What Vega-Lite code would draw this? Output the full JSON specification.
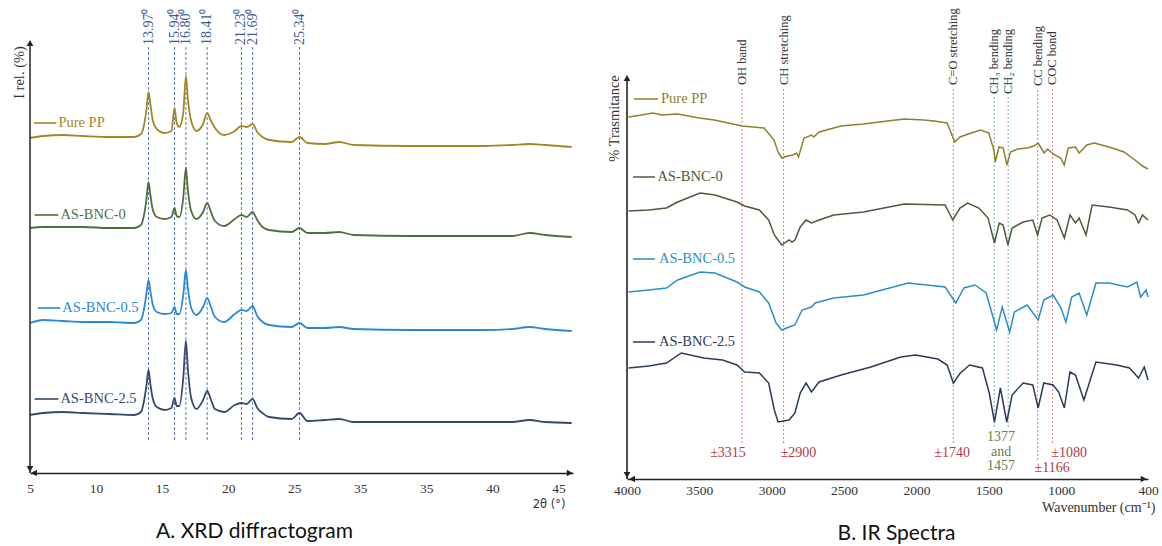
{
  "$schema": "https://vega.github.io/schema/vega-lite/v6.json",
  "background": "white",
  "padding": {"left": 11, "top": 0, "right": 0, "bottom": 0},
  "spacing": 30,
  "config": {"view": {"stroke": null}, "axis": {"grid": false}},
  "resolve": {"scale": {"color": "independent"}},
  "datasets": {
    "xrd": [
      {"sample":"Pure PP","two_theta":5,"intensity":335},{"sample":"Pure PP","two_theta":6,"intensity":337},{"sample":"Pure PP","two_theta":7.5,"intensity":338},{"sample":"Pure PP","two_theta":9,"intensity":337},{"sample":"Pure PP","two_theta":11,"intensity":336},{"sample":"Pure PP","two_theta":12.9,"intensity":336},{"sample":"Pure PP","two_theta":13.4,"intensity":339},{"sample":"Pure PP","two_theta":13.6,"intensity":346},{"sample":"Pure PP","two_theta":13.8,"intensity":362},{"sample":"Pure PP","two_theta":13.97,"intensity":381},{"sample":"Pure PP","two_theta":14.12,"intensity":368},{"sample":"Pure PP","two_theta":14.3,"intensity":352},{"sample":"Pure PP","two_theta":14.6,"intensity":344},{"sample":"Pure PP","two_theta":15.2,"intensity":340},{"sample":"Pure PP","two_theta":15.7,"intensity":342},{"sample":"Pure PP","two_theta":15.94,"intensity":365},{"sample":"Pure PP","two_theta":16.1,"intensity":350},{"sample":"Pure PP","two_theta":16.3,"intensity":346},{"sample":"Pure PP","two_theta":16.6,"intensity":360},{"sample":"Pure PP","two_theta":16.8,"intensity":397},{"sample":"Pure PP","two_theta":16.95,"intensity":374},{"sample":"Pure PP","two_theta":17.2,"intensity":352},{"sample":"Pure PP","two_theta":17.6,"intensity":342},{"sample":"Pure PP","two_theta":18.1,"intensity":349},{"sample":"Pure PP","two_theta":18.41,"intensity":360},{"sample":"Pure PP","two_theta":18.7,"intensity":352},{"sample":"Pure PP","two_theta":19.0,"intensity":345},{"sample":"Pure PP","two_theta":19.7,"intensity":338},{"sample":"Pure PP","two_theta":20.5,"intensity":342},{"sample":"Pure PP","two_theta":21.0,"intensity":347},{"sample":"Pure PP","two_theta":21.4,"intensity":346},{"sample":"Pure PP","two_theta":21.85,"intensity":349},{"sample":"Pure PP","two_theta":22.2,"intensity":341},{"sample":"Pure PP","two_theta":22.6,"intensity":336},{"sample":"Pure PP","two_theta":23.1,"intensity":333},{"sample":"Pure PP","two_theta":24.8,"intensity":331},{"sample":"Pure PP","two_theta":25.4,"intensity":336},{"sample":"Pure PP","two_theta":26.0,"intensity":330},{"sample":"Pure PP","two_theta":27.3,"intensity":329},{"sample":"Pure PP","two_theta":28.4,"intensity":331},{"sample":"Pure PP","two_theta":29.5,"intensity":328},{"sample":"Pure PP","two_theta":33.8,"intensity":327},{"sample":"Pure PP","two_theta":39.4,"intensity":327},{"sample":"Pure PP","two_theta":41.5,"intensity":328},{"sample":"Pure PP","two_theta":42.8,"intensity":329},{"sample":"Pure PP","two_theta":44,"intensity":328},{"sample":"Pure PP","two_theta":46,"intensity":326},
      {"sample":"AS-BNC-0","two_theta":5,"intensity":245},{"sample":"AS-BNC-0","two_theta":6,"intensity":246},{"sample":"AS-BNC-0","two_theta":7.5,"intensity":246},{"sample":"AS-BNC-0","two_theta":9,"intensity":246},{"sample":"AS-BNC-0","two_theta":11,"intensity":245},{"sample":"AS-BNC-0","two_theta":12.9,"intensity":245},{"sample":"AS-BNC-0","two_theta":13.4,"intensity":248},{"sample":"AS-BNC-0","two_theta":13.6,"intensity":256},{"sample":"AS-BNC-0","two_theta":13.8,"intensity":272},{"sample":"AS-BNC-0","two_theta":13.97,"intensity":291},{"sample":"AS-BNC-0","two_theta":14.12,"intensity":277},{"sample":"AS-BNC-0","two_theta":14.3,"intensity":263},{"sample":"AS-BNC-0","two_theta":14.6,"intensity":256},{"sample":"AS-BNC-0","two_theta":15.2,"intensity":254},{"sample":"AS-BNC-0","two_theta":15.7,"intensity":256},{"sample":"AS-BNC-0","two_theta":15.94,"intensity":265},{"sample":"AS-BNC-0","two_theta":16.1,"intensity":257},{"sample":"AS-BNC-0","two_theta":16.3,"intensity":256},{"sample":"AS-BNC-0","two_theta":16.6,"intensity":275},{"sample":"AS-BNC-0","two_theta":16.8,"intensity":305},{"sample":"AS-BNC-0","two_theta":16.95,"intensity":283},{"sample":"AS-BNC-0","two_theta":17.2,"intensity":262},{"sample":"AS-BNC-0","two_theta":17.6,"intensity":254},{"sample":"AS-BNC-0","two_theta":18.1,"intensity":261},{"sample":"AS-BNC-0","two_theta":18.41,"intensity":270},{"sample":"AS-BNC-0","two_theta":18.7,"intensity":261},{"sample":"AS-BNC-0","two_theta":19.0,"intensity":252},{"sample":"AS-BNC-0","two_theta":19.7,"intensity":247},{"sample":"AS-BNC-0","two_theta":20.5,"intensity":254},{"sample":"AS-BNC-0","two_theta":21.0,"intensity":258},{"sample":"AS-BNC-0","two_theta":21.4,"intensity":256},{"sample":"AS-BNC-0","two_theta":21.85,"intensity":261},{"sample":"AS-BNC-0","two_theta":22.2,"intensity":253},{"sample":"AS-BNC-0","two_theta":22.6,"intensity":246},{"sample":"AS-BNC-0","two_theta":23.1,"intensity":243},{"sample":"AS-BNC-0","two_theta":24.8,"intensity":241},{"sample":"AS-BNC-0","two_theta":25.4,"intensity":245},{"sample":"AS-BNC-0","two_theta":26.0,"intensity":240},{"sample":"AS-BNC-0","two_theta":27.3,"intensity":240},{"sample":"AS-BNC-0","two_theta":28.4,"intensity":241},{"sample":"AS-BNC-0","two_theta":29.5,"intensity":238},{"sample":"AS-BNC-0","two_theta":33.8,"intensity":237},{"sample":"AS-BNC-0","two_theta":39.4,"intensity":237},{"sample":"AS-BNC-0","two_theta":41.5,"intensity":237},{"sample":"AS-BNC-0","two_theta":42.8,"intensity":240},{"sample":"AS-BNC-0","two_theta":44,"intensity":238},{"sample":"AS-BNC-0","two_theta":46,"intensity":236},
      {"sample":"AS-BNC-0.5","two_theta":5,"intensity":150},{"sample":"AS-BNC-0.5","two_theta":6,"intensity":153},{"sample":"AS-BNC-0.5","two_theta":7.5,"intensity":152},{"sample":"AS-BNC-0.5","two_theta":9,"intensity":151},{"sample":"AS-BNC-0.5","two_theta":11,"intensity":151},{"sample":"AS-BNC-0.5","two_theta":12.9,"intensity":150},{"sample":"AS-BNC-0.5","two_theta":13.4,"intensity":153},{"sample":"AS-BNC-0.5","two_theta":13.6,"intensity":162},{"sample":"AS-BNC-0.5","two_theta":13.8,"intensity":178},{"sample":"AS-BNC-0.5","two_theta":13.97,"intensity":193},{"sample":"AS-BNC-0.5","two_theta":14.12,"intensity":181},{"sample":"AS-BNC-0.5","two_theta":14.3,"intensity":168},{"sample":"AS-BNC-0.5","two_theta":14.6,"intensity":161},{"sample":"AS-BNC-0.5","two_theta":15.2,"intensity":159},{"sample":"AS-BNC-0.5","two_theta":15.7,"intensity":160},{"sample":"AS-BNC-0.5","two_theta":15.94,"intensity":166},{"sample":"AS-BNC-0.5","two_theta":16.1,"intensity":159},{"sample":"AS-BNC-0.5","two_theta":16.3,"intensity":159},{"sample":"AS-BNC-0.5","two_theta":16.6,"intensity":178},{"sample":"AS-BNC-0.5","two_theta":16.8,"intensity":203},{"sample":"AS-BNC-0.5","two_theta":16.95,"intensity":185},{"sample":"AS-BNC-0.5","two_theta":17.2,"intensity":165},{"sample":"AS-BNC-0.5","two_theta":17.6,"intensity":158},{"sample":"AS-BNC-0.5","two_theta":18.1,"intensity":166},{"sample":"AS-BNC-0.5","two_theta":18.41,"intensity":175},{"sample":"AS-BNC-0.5","two_theta":18.7,"intensity":166},{"sample":"AS-BNC-0.5","two_theta":19.0,"intensity":156},{"sample":"AS-BNC-0.5","two_theta":19.7,"intensity":151},{"sample":"AS-BNC-0.5","two_theta":20.5,"intensity":159},{"sample":"AS-BNC-0.5","two_theta":21.0,"intensity":163},{"sample":"AS-BNC-0.5","two_theta":21.4,"intensity":162},{"sample":"AS-BNC-0.5","two_theta":21.85,"intensity":167},{"sample":"AS-BNC-0.5","two_theta":22.2,"intensity":157},{"sample":"AS-BNC-0.5","two_theta":22.6,"intensity":151},{"sample":"AS-BNC-0.5","two_theta":23.1,"intensity":148},{"sample":"AS-BNC-0.5","two_theta":24.8,"intensity":146},{"sample":"AS-BNC-0.5","two_theta":25.4,"intensity":150},{"sample":"AS-BNC-0.5","two_theta":26.0,"intensity":145},{"sample":"AS-BNC-0.5","two_theta":27.3,"intensity":145},{"sample":"AS-BNC-0.5","two_theta":28.4,"intensity":146},{"sample":"AS-BNC-0.5","two_theta":29.5,"intensity":144},{"sample":"AS-BNC-0.5","two_theta":33.8,"intensity":143},{"sample":"AS-BNC-0.5","two_theta":39.4,"intensity":143},{"sample":"AS-BNC-0.5","two_theta":41.5,"intensity":144},{"sample":"AS-BNC-0.5","two_theta":42.8,"intensity":146},{"sample":"AS-BNC-0.5","two_theta":44,"intensity":144},{"sample":"AS-BNC-0.5","two_theta":46,"intensity":142},
      {"sample":"AS-BNC-2.5","two_theta":5,"intensity":58},{"sample":"AS-BNC-2.5","two_theta":6,"intensity":60},{"sample":"AS-BNC-2.5","two_theta":7.5,"intensity":61},{"sample":"AS-BNC-2.5","two_theta":9,"intensity":60},{"sample":"AS-BNC-2.5","two_theta":11,"intensity":59},{"sample":"AS-BNC-2.5","two_theta":12.9,"intensity":58},{"sample":"AS-BNC-2.5","two_theta":13.4,"intensity":61},{"sample":"AS-BNC-2.5","two_theta":13.6,"intensity":70},{"sample":"AS-BNC-2.5","two_theta":13.8,"intensity":86},{"sample":"AS-BNC-2.5","two_theta":13.97,"intensity":103},{"sample":"AS-BNC-2.5","two_theta":14.12,"intensity":88},{"sample":"AS-BNC-2.5","two_theta":14.3,"intensity":74},{"sample":"AS-BNC-2.5","two_theta":14.6,"intensity":66},{"sample":"AS-BNC-2.5","two_theta":15.2,"intensity":63},{"sample":"AS-BNC-2.5","two_theta":15.7,"intensity":65},{"sample":"AS-BNC-2.5","two_theta":15.94,"intensity":75},{"sample":"AS-BNC-2.5","two_theta":16.1,"intensity":67},{"sample":"AS-BNC-2.5","two_theta":16.3,"intensity":67},{"sample":"AS-BNC-2.5","two_theta":16.6,"intensity":95},{"sample":"AS-BNC-2.5","two_theta":16.8,"intensity":132},{"sample":"AS-BNC-2.5","two_theta":16.95,"intensity":104},{"sample":"AS-BNC-2.5","two_theta":17.2,"intensity":75},{"sample":"AS-BNC-2.5","two_theta":17.6,"intensity":64},{"sample":"AS-BNC-2.5","two_theta":18.1,"intensity":73},{"sample":"AS-BNC-2.5","two_theta":18.41,"intensity":82},{"sample":"AS-BNC-2.5","two_theta":18.7,"intensity":73},{"sample":"AS-BNC-2.5","two_theta":19.0,"intensity":64},{"sample":"AS-BNC-2.5","two_theta":19.7,"intensity":61},{"sample":"AS-BNC-2.5","two_theta":20.5,"intensity":68},{"sample":"AS-BNC-2.5","two_theta":21.0,"intensity":70},{"sample":"AS-BNC-2.5","two_theta":21.4,"intensity":69},{"sample":"AS-BNC-2.5","two_theta":21.85,"intensity":74},{"sample":"AS-BNC-2.5","two_theta":22.2,"intensity":65},{"sample":"AS-BNC-2.5","two_theta":22.6,"intensity":60},{"sample":"AS-BNC-2.5","two_theta":23.1,"intensity":56},{"sample":"AS-BNC-2.5","two_theta":24.8,"intensity":54},{"sample":"AS-BNC-2.5","two_theta":25.4,"intensity":60},{"sample":"AS-BNC-2.5","two_theta":26.0,"intensity":52},{"sample":"AS-BNC-2.5","two_theta":27.3,"intensity":53},{"sample":"AS-BNC-2.5","two_theta":28.4,"intensity":54},{"sample":"AS-BNC-2.5","two_theta":29.5,"intensity":51},{"sample":"AS-BNC-2.5","two_theta":33.8,"intensity":51},{"sample":"AS-BNC-2.5","two_theta":39.4,"intensity":51},{"sample":"AS-BNC-2.5","two_theta":41.5,"intensity":51},{"sample":"AS-BNC-2.5","two_theta":42.8,"intensity":53},{"sample":"AS-BNC-2.5","two_theta":44,"intensity":51},{"sample":"AS-BNC-2.5","two_theta":46,"intensity":50}
    ],
    "xrd_peaks": [
      {"two_theta":13.97,"label":"13.97⁰"},{"two_theta":15.94,"label":"15.94⁰"},{"two_theta":16.8,"label":"16.80⁰"},{"two_theta":18.41,"label":"18.41⁰"},{"two_theta":21.0,"label":"21.23⁰"},{"two_theta":21.85,"label":"21.69⁰"},{"two_theta":25.4,"label":"25.34⁰"}
    ],
    "xrd_legend": [
      {"sample":"Pure PP","two_theta":5.3,"two_theta_end":7.0,"text_theta":7.15,"intensity":350},
      {"sample":"AS-BNC-0","two_theta":5.35,"two_theta_end":7.15,"text_theta":7.3,"intensity":258},
      {"sample":"AS-BNC-0.5","two_theta":5.6,"two_theta_end":7.3,"text_theta":7.45,"intensity":165},
      {"sample":"AS-BNC-2.5","two_theta":5.35,"two_theta_end":7.15,"text_theta":7.3,"intensity":74}
    ],
    "xrd_arrows": [
      {"two_theta":5,"intensity":430,"dir":"up"},{"two_theta":5,"intensity":4,"dir":"down"},{"two_theta":5.3,"intensity":0,"dir":"left"},{"two_theta":45.85,"intensity":0,"dir":"right"}
    ],
    "ir": [
      {"sample":"Pure PP","wavenumber":3989,"transmittance":362},{"sample":"Pure PP","wavenumber":3900,"transmittance":364},{"sample":"Pure PP","wavenumber":3822,"transmittance":366},{"sample":"Pure PP","wavenumber":3760,"transmittance":364},{"sample":"Pure PP","wavenumber":3650,"transmittance":365},{"sample":"Pure PP","wavenumber":3500,"transmittance":361},{"sample":"Pure PP","wavenumber":3398,"transmittance":359},{"sample":"Pure PP","wavenumber":3300,"transmittance":356},{"sample":"Pure PP","wavenumber":3205,"transmittance":353},{"sample":"Pure PP","wavenumber":3053,"transmittance":351},{"sample":"Pure PP","wavenumber":2984,"transmittance":339},{"sample":"Pure PP","wavenumber":2956,"transmittance":327},{"sample":"Pure PP","wavenumber":2931,"transmittance":321},{"sample":"Pure PP","wavenumber":2890,"transmittance":323},{"sample":"Pure PP","wavenumber":2853,"transmittance":324},{"sample":"Pure PP","wavenumber":2828,"transmittance":326},{"sample":"Pure PP","wavenumber":2815,"transmittance":322},{"sample":"Pure PP","wavenumber":2777,"transmittance":341},{"sample":"Pure PP","wavenumber":2725,"transmittance":344},{"sample":"Pure PP","wavenumber":2710,"transmittance":342},{"sample":"Pure PP","wavenumber":2673,"transmittance":347},{"sample":"Pure PP","wavenumber":2521,"transmittance":353},{"sample":"Pure PP","wavenumber":2366,"transmittance":355},{"sample":"Pure PP","wavenumber":2200,"transmittance":358},{"sample":"Pure PP","wavenumber":2083,"transmittance":360},{"sample":"Pure PP","wavenumber":1950,"transmittance":359},{"sample":"Pure PP","wavenumber":1878,"transmittance":358},{"sample":"Pure PP","wavenumber":1788,"transmittance":356},{"sample":"Pure PP","wavenumber":1749,"transmittance":342},{"sample":"Pure PP","wavenumber":1736,"transmittance":337},{"sample":"Pure PP","wavenumber":1699,"transmittance":342},{"sample":"Pure PP","wavenumber":1622,"transmittance":346},{"sample":"Pure PP","wavenumber":1556,"transmittance":349},{"sample":"Pure PP","wavenumber":1500,"transmittance":346},{"sample":"Pure PP","wavenumber":1465,"transmittance":329},{"sample":"Pure PP","wavenumber":1455,"transmittance":317},{"sample":"Pure PP","wavenumber":1430,"transmittance":332},{"sample":"Pure PP","wavenumber":1400,"transmittance":331},{"sample":"Pure PP","wavenumber":1375,"transmittance":314},{"sample":"Pure PP","wavenumber":1350,"transmittance":327},{"sample":"Pure PP","wavenumber":1300,"transmittance":330},{"sample":"Pure PP","wavenumber":1235,"transmittance":331},{"sample":"Pure PP","wavenumber":1190,"transmittance":333},{"sample":"Pure PP","wavenumber":1159,"transmittance":336},{"sample":"Pure PP","wavenumber":1118,"transmittance":326},{"sample":"Pure PP","wavenumber":1094,"transmittance":330},{"sample":"Pure PP","wavenumber":1056,"transmittance":325},{"sample":"Pure PP","wavenumber":1004,"transmittance":321},{"sample":"Pure PP","wavenumber":979,"transmittance":314},{"sample":"Pure PP","wavenumber":951,"transmittance":331},{"sample":"Pure PP","wavenumber":901,"transmittance":332},{"sample":"Pure PP","wavenumber":876,"transmittance":326},{"sample":"Pure PP","wavenumber":823,"transmittance":334},{"sample":"Pure PP","wavenumber":772,"transmittance":336},{"sample":"Pure PP","wavenumber":669,"transmittance":332},{"sample":"Pure PP","wavenumber":566,"transmittance":327},{"sample":"Pure PP","wavenumber":490,"transmittance":319},{"sample":"Pure PP","wavenumber":438,"transmittance":313},{"sample":"Pure PP","wavenumber":400,"transmittance":310},
      {"sample":"AS-BNC-0","wavenumber":3989,"transmittance":268},{"sample":"AS-BNC-0","wavenumber":3850,"transmittance":269},{"sample":"AS-BNC-0","wavenumber":3727,"transmittance":271},{"sample":"AS-BNC-0","wavenumber":3650,"transmittance":277},{"sample":"AS-BNC-0","wavenumber":3495,"transmittance":286},{"sample":"AS-BNC-0","wavenumber":3392,"transmittance":284},{"sample":"AS-BNC-0","wavenumber":3240,"transmittance":277},{"sample":"AS-BNC-0","wavenumber":3187,"transmittance":273},{"sample":"AS-BNC-0","wavenumber":3085,"transmittance":269},{"sample":"AS-BNC-0","wavenumber":3021,"transmittance":259},{"sample":"AS-BNC-0","wavenumber":2982,"transmittance":244},{"sample":"AS-BNC-0","wavenumber":2931,"transmittance":234},{"sample":"AS-BNC-0","wavenumber":2880,"transmittance":239},{"sample":"AS-BNC-0","wavenumber":2860,"transmittance":237},{"sample":"AS-BNC-0","wavenumber":2840,"transmittance":239},{"sample":"AS-BNC-0","wavenumber":2803,"transmittance":252},{"sample":"AS-BNC-0","wavenumber":2763,"transmittance":259},{"sample":"AS-BNC-0","wavenumber":2725,"transmittance":256},{"sample":"AS-BNC-0","wavenumber":2673,"transmittance":259},{"sample":"AS-BNC-0","wavenumber":2571,"transmittance":264},{"sample":"AS-BNC-0","wavenumber":2366,"transmittance":267},{"sample":"AS-BNC-0","wavenumber":2083,"transmittance":275},{"sample":"AS-BNC-0","wavenumber":1802,"transmittance":274},{"sample":"AS-BNC-0","wavenumber":1749,"transmittance":259},{"sample":"AS-BNC-0","wavenumber":1699,"transmittance":271},{"sample":"AS-BNC-0","wavenumber":1646,"transmittance":276},{"sample":"AS-BNC-0","wavenumber":1569,"transmittance":271},{"sample":"AS-BNC-0","wavenumber":1505,"transmittance":261},{"sample":"AS-BNC-0","wavenumber":1461,"transmittance":236},{"sample":"AS-BNC-0","wavenumber":1428,"transmittance":256},{"sample":"AS-BNC-0","wavenumber":1401,"transmittance":254},{"sample":"AS-BNC-0","wavenumber":1368,"transmittance":234},{"sample":"AS-BNC-0","wavenumber":1339,"transmittance":251},{"sample":"AS-BNC-0","wavenumber":1263,"transmittance":257},{"sample":"AS-BNC-0","wavenumber":1196,"transmittance":259},{"sample":"AS-BNC-0","wavenumber":1163,"transmittance":244},{"sample":"AS-BNC-0","wavenumber":1132,"transmittance":261},{"sample":"AS-BNC-0","wavenumber":1080,"transmittance":264},{"sample":"AS-BNC-0","wavenumber":1028,"transmittance":259},{"sample":"AS-BNC-0","wavenumber":978,"transmittance":241},{"sample":"AS-BNC-0","wavenumber":939,"transmittance":264},{"sample":"AS-BNC-0","wavenumber":901,"transmittance":256},{"sample":"AS-BNC-0","wavenumber":876,"transmittance":261},{"sample":"AS-BNC-0","wavenumber":828,"transmittance":244},{"sample":"AS-BNC-0","wavenumber":786,"transmittance":274},{"sample":"AS-BNC-0","wavenumber":669,"transmittance":272},{"sample":"AS-BNC-0","wavenumber":541,"transmittance":269},{"sample":"AS-BNC-0","wavenumber":490,"transmittance":264},{"sample":"AS-BNC-0","wavenumber":465,"transmittance":256},{"sample":"AS-BNC-0","wavenumber":438,"transmittance":264},{"sample":"AS-BNC-0","wavenumber":400,"transmittance":259},
      {"sample":"AS-BNC-0.5","wavenumber":3989,"transmittance":187},{"sample":"AS-BNC-0.5","wavenumber":3850,"transmittance":189},{"sample":"AS-BNC-0.5","wavenumber":3727,"transmittance":191},{"sample":"AS-BNC-0.5","wavenumber":3650,"transmittance":199},{"sample":"AS-BNC-0.5","wavenumber":3495,"transmittance":207},{"sample":"AS-BNC-0.5","wavenumber":3392,"transmittance":206},{"sample":"AS-BNC-0.5","wavenumber":3240,"transmittance":197},{"sample":"AS-BNC-0.5","wavenumber":3187,"transmittance":192},{"sample":"AS-BNC-0.5","wavenumber":3085,"transmittance":187},{"sample":"AS-BNC-0.5","wavenumber":3021,"transmittance":176},{"sample":"AS-BNC-0.5","wavenumber":2970,"transmittance":156},{"sample":"AS-BNC-0.5","wavenumber":2931,"transmittance":149},{"sample":"AS-BNC-0.5","wavenumber":2880,"transmittance":152},{"sample":"AS-BNC-0.5","wavenumber":2840,"transmittance":154},{"sample":"AS-BNC-0.5","wavenumber":2790,"transmittance":169},{"sample":"AS-BNC-0.5","wavenumber":2725,"transmittance":172},{"sample":"AS-BNC-0.5","wavenumber":2700,"transmittance":176},{"sample":"AS-BNC-0.5","wavenumber":2571,"transmittance":181},{"sample":"AS-BNC-0.5","wavenumber":2366,"transmittance":184},{"sample":"AS-BNC-0.5","wavenumber":2057,"transmittance":196},{"sample":"AS-BNC-0.5","wavenumber":1802,"transmittance":192},{"sample":"AS-BNC-0.5","wavenumber":1728,"transmittance":176},{"sample":"AS-BNC-0.5","wavenumber":1672,"transmittance":191},{"sample":"AS-BNC-0.5","wavenumber":1595,"transmittance":194},{"sample":"AS-BNC-0.5","wavenumber":1518,"transmittance":186},{"sample":"AS-BNC-0.5","wavenumber":1446,"transmittance":149},{"sample":"AS-BNC-0.5","wavenumber":1407,"transmittance":172},{"sample":"AS-BNC-0.5","wavenumber":1356,"transmittance":147},{"sample":"AS-BNC-0.5","wavenumber":1323,"transmittance":167},{"sample":"AS-BNC-0.5","wavenumber":1235,"transmittance":174},{"sample":"AS-BNC-0.5","wavenumber":1159,"transmittance":159},{"sample":"AS-BNC-0.5","wavenumber":1120,"transmittance":179},{"sample":"AS-BNC-0.5","wavenumber":1056,"transmittance":184},{"sample":"AS-BNC-0.5","wavenumber":1004,"transmittance":172},{"sample":"AS-BNC-0.5","wavenumber":967,"transmittance":157},{"sample":"AS-BNC-0.5","wavenumber":927,"transmittance":182},{"sample":"AS-BNC-0.5","wavenumber":876,"transmittance":186},{"sample":"AS-BNC-0.5","wavenumber":823,"transmittance":164},{"sample":"AS-BNC-0.5","wavenumber":760,"transmittance":196},{"sample":"AS-BNC-0.5","wavenumber":669,"transmittance":196},{"sample":"AS-BNC-0.5","wavenumber":541,"transmittance":192},{"sample":"AS-BNC-0.5","wavenumber":477,"transmittance":197},{"sample":"AS-BNC-0.5","wavenumber":451,"transmittance":182},{"sample":"AS-BNC-0.5","wavenumber":413,"transmittance":189},{"sample":"AS-BNC-0.5","wavenumber":400,"transmittance":182},
      {"sample":"AS-BNC-2.5","wavenumber":3989,"transmittance":111},{"sample":"AS-BNC-2.5","wavenumber":3850,"transmittance":113},{"sample":"AS-BNC-2.5","wavenumber":3727,"transmittance":116},{"sample":"AS-BNC-2.5","wavenumber":3625,"transmittance":126},{"sample":"AS-BNC-2.5","wavenumber":3470,"transmittance":121},{"sample":"AS-BNC-2.5","wavenumber":3340,"transmittance":119},{"sample":"AS-BNC-2.5","wavenumber":3240,"transmittance":114},{"sample":"AS-BNC-2.5","wavenumber":3187,"transmittance":107},{"sample":"AS-BNC-2.5","wavenumber":3085,"transmittance":106},{"sample":"AS-BNC-2.5","wavenumber":3021,"transmittance":96},{"sample":"AS-BNC-2.5","wavenumber":2982,"transmittance":69},{"sample":"AS-BNC-2.5","wavenumber":2956,"transmittance":57},{"sample":"AS-BNC-2.5","wavenumber":2880,"transmittance":59},{"sample":"AS-BNC-2.5","wavenumber":2840,"transmittance":66},{"sample":"AS-BNC-2.5","wavenumber":2803,"transmittance":86},{"sample":"AS-BNC-2.5","wavenumber":2763,"transmittance":96},{"sample":"AS-BNC-2.5","wavenumber":2725,"transmittance":87},{"sample":"AS-BNC-2.5","wavenumber":2673,"transmittance":97},{"sample":"AS-BNC-2.5","wavenumber":2520,"transmittance":104},{"sample":"AS-BNC-2.5","wavenumber":2315,"transmittance":112},{"sample":"AS-BNC-2.5","wavenumber":2108,"transmittance":122},{"sample":"AS-BNC-2.5","wavenumber":2006,"transmittance":124},{"sample":"AS-BNC-2.5","wavenumber":1852,"transmittance":120},{"sample":"AS-BNC-2.5","wavenumber":1788,"transmittance":114},{"sample":"AS-BNC-2.5","wavenumber":1745,"transmittance":96},{"sample":"AS-BNC-2.5","wavenumber":1697,"transmittance":106},{"sample":"AS-BNC-2.5","wavenumber":1633,"transmittance":114},{"sample":"AS-BNC-2.5","wavenumber":1544,"transmittance":111},{"sample":"AS-BNC-2.5","wavenumber":1497,"transmittance":86},{"sample":"AS-BNC-2.5","wavenumber":1461,"transmittance":57},{"sample":"AS-BNC-2.5","wavenumber":1420,"transmittance":91},{"sample":"AS-BNC-2.5","wavenumber":1376,"transmittance":57},{"sample":"AS-BNC-2.5","wavenumber":1339,"transmittance":84},{"sample":"AS-BNC-2.5","wavenumber":1263,"transmittance":96},{"sample":"AS-BNC-2.5","wavenumber":1196,"transmittance":94},{"sample":"AS-BNC-2.5","wavenumber":1159,"transmittance":71},{"sample":"AS-BNC-2.5","wavenumber":1120,"transmittance":96},{"sample":"AS-BNC-2.5","wavenumber":1056,"transmittance":94},{"sample":"AS-BNC-2.5","wavenumber":1017,"transmittance":87},{"sample":"AS-BNC-2.5","wavenumber":978,"transmittance":71},{"sample":"AS-BNC-2.5","wavenumber":939,"transmittance":107},{"sample":"AS-BNC-2.5","wavenumber":901,"transmittance":104},{"sample":"AS-BNC-2.5","wavenumber":843,"transmittance":79},{"sample":"AS-BNC-2.5","wavenumber":760,"transmittance":117},{"sample":"AS-BNC-2.5","wavenumber":617,"transmittance":114},{"sample":"AS-BNC-2.5","wavenumber":528,"transmittance":111},{"sample":"AS-BNC-2.5","wavenumber":465,"transmittance":101},{"sample":"AS-BNC-2.5","wavenumber":426,"transmittance":112},{"sample":"AS-BNC-2.5","wavenumber":400,"transmittance":99}
    ],
    "ir_legend": [
      {"sample":"Pure PP","wavenumber":3952,"wavenumber_end":3786,"text_wn":3765,"transmittance":380},
      {"sample":"AS-BNC-0","wavenumber":3959,"wavenumber_end":3806,"text_wn":3790,"transmittance":302},
      {"sample":"AS-BNC-0.5","wavenumber":3959,"wavenumber_end":3806,"text_wn":3779,"transmittance":220},
      {"sample":"AS-BNC-2.5","wavenumber":3959,"wavenumber_end":3806,"text_wn":3779,"transmittance":137}
    ],
    "ir_bands_red": [
      {"band":"OH band","wavenumber":3205},{"band":"CH stretching","wavenumber":2918},{"band":"C=O stretching","wavenumber":1745},{"band":"COC bond","wavenumber":1060}
    ],
    "ir_bands_cc": [{"band":"CC bending","wavenumber":1162}],
    "ir_bands_green": [{"band":"CH₃ bending","wavenumber":1462},{"band":"CH₂ bending","wavenumber":1366}],
    "ir_values_red": [
      {"text":"±3315","wavenumber":3302,"transmittance":26},{"text":"±2900","wavenumber":2815,"transmittance":26},{"text":"±1740","wavenumber":1754,"transmittance":26},{"text":"±1080","wavenumber":945,"transmittance":26},{"text":"±1166","wavenumber":1063,"transmittance":11}
    ],
    "ir_values_green": [
      {"text":"1377","wavenumber":1415,"transmittance":42},{"text":"and","wavenumber":1415,"transmittance":27},{"text":"1457","wavenumber":1415,"transmittance":13}
    ],
    "ir_arrows": [
      {"wavenumber":4000,"transmittance":401,"dir":"up"},{"wavenumber":4000,"transmittance":4,"dir":"down"},{"wavenumber":3965,"transmittance":0,"dir":"left"},{"wavenumber":430,"transmittance":0,"dir":"right"}
    ]
  },
  "hconcat": [
    {
      "width": 543,
      "height": 473,
      "title": {"text": "A.  XRD diffractogram", "orient": "bottom", "anchor": "middle", "dx": -47, "offset": 11, "font": "Lato", "fontSize": 21, "fontWeight": "normal", "color": "#111"},
      "layer": [
        {
          "data": {"name": "xrd_peaks"},
          "mark": {"type": "rule", "color": "#5b78b5", "strokeDash": [3, 2], "strokeWidth": 1},
          "encoding": {
            "x": {"field": "two_theta", "type": "quantitative"},
            "y": {"datum": 33},
            "y2": {"datum": 426}
          }
        },
        {
          "data": {"name": "xrd_peaks"},
          "mark": {"type": "text", "angle": 270, "align": "left", "baseline": "middle", "font": "Liberation Serif", "fontSize": 14, "color": "#3d5a94"},
          "encoding": {
            "x": {"field": "two_theta", "type": "quantitative"},
            "y": {"datum": 428},
            "text": {"field": "label"}
          }
        },
        {
          "data": {"name": "xrd"},
          "mark": {"type": "line", "interpolate": "monotone", "strokeWidth": 1.8},
          "encoding": {
            "x": {"field": "two_theta", "type": "quantitative",
              "scale": {"domain": [5, 46.1], "nice": false, "zero": false},
              "axis": {"title": "2θ (°)", "values": [5,10,15,20,25,30,35,40,45], "format": "d", "labelExpr": "datum.value == 30 ? '35' : datum.label", "domainColor": "#222", "domainWidth": 1.6, "ticks": false, "tickSize": 0, "labelPadding": 8, "labelFont": "Liberation Serif", "labelFontSize": 13.5, "labelColor": "#333", "labelFlush": false, "labelOverlap": false, "titleFont": "DejaVu Sans", "titleFontSize": 11.5, "titleFontWeight": "normal", "titleColor": "#333", "titleX": 535, "titleY": 31, "titleAlign": "right", "titleBaseline": "middle"}
            },
            "y": {"field": "intensity", "type": "quantitative",
              "scale": {"domain": [0, 473], "nice": false, "zero": false},
              "axis": {"title": "I rel. (%)", "domain": false, "ticks": false, "labels": false, "titleFont": "Liberation Serif", "titleFontSize": 14.5, "titleFontWeight": "normal", "titleColor": "#333", "titleAngle": 270, "titleX": -11, "titleY": 72, "titleAlign": "center", "titleBaseline": "middle"}
            },
            "color": {"field": "sample", "type": "nominal",
              "scale": {"domain": ["Pure PP", "AS-BNC-0", "AS-BNC-0.5", "AS-BNC-2.5"], "range": ["#a08827", "#4f6f3a", "#2a88d8", "#35496f"]},
              "legend": null}
          }
        },
        {
          "data": {"values": [{}]},
          "mark": {"type": "rule", "color": "#333", "strokeWidth": 1.6},
          "encoding": {"x": {"datum": 5}, "y": {"datum": 0}, "y2": {"datum": 431}}
        },
        {
          "data": {"name": "xrd_arrows"},
          "mark": {"type": "point", "filled": true, "size": 45, "opacity": 1, "color": "#222"},
          "encoding": {
            "x": {"field": "two_theta", "type": "quantitative"},
            "y": {"field": "intensity", "type": "quantitative"},
            "shape": {"field": "dir", "type": "nominal", "scale": {"domain": ["up", "down", "left", "right"], "range": ["triangle-up", "triangle-down", "triangle-left", "triangle-right"]}, "legend": null}
          }
        },
        {
          "data": {"name": "xrd_legend"},
          "mark": {"type": "rule", "strokeWidth": 1.6},
          "encoding": {
            "x": {"field": "two_theta", "type": "quantitative"},
            "x2": {"field": "two_theta_end"},
            "y": {"field": "intensity", "type": "quantitative"},
            "color": {"field": "sample", "type": "nominal", "legend": null}
          }
        },
        {
          "data": {"name": "xrd_legend"},
          "mark": {"type": "text", "align": "left", "baseline": "middle", "font": "Liberation Serif", "fontSize": 14.5},
          "encoding": {
            "x": {"field": "text_theta", "type": "quantitative"},
            "y": {"field": "intensity", "type": "quantitative"},
            "text": {"field": "sample"},
            "color": {"field": "sample", "type": "nominal", "legend": null}
          }
        }
      ]
    },
    {
      "width": 521,
      "height": 479,
      "title": {"text": "B. IR Spectra", "orient": "bottom", "anchor": "middle", "dx": 9, "offset": 9, "font": "Lato", "fontSize": 21, "fontWeight": "normal", "color": "#111"},
      "layer": [
        {
          "data": {"name": "ir_bands_red"},
          "mark": {"type": "rule", "color": "#e07a84", "strokeDash": [2, 2], "strokeWidth": 1},
          "encoding": {"x": {"field": "wavenumber", "type": "quantitative"}, "y": {"datum": 36}, "y2": {"datum": 392}}
        },
        {
          "data": {"name": "ir_bands_cc"},
          "mark": {"type": "rule", "color": "#e07a84", "strokeDash": [2, 2], "strokeWidth": 1},
          "encoding": {"x": {"field": "wavenumber", "type": "quantitative"}, "y": {"datum": 19}, "y2": {"datum": 391}}
        },
        {
          "data": {"name": "ir_bands_green"},
          "mark": {"type": "rule", "color": "#7fb5a3", "strokeDash": [2, 2], "strokeWidth": 1},
          "encoding": {"x": {"field": "wavenumber", "type": "quantitative"}, "y": {"datum": 52}, "y2": {"datum": 384}}
        },
        {
          "data": {"name": "ir_bands_red"},
          "mark": {"type": "text", "angle": 270, "align": "left", "baseline": "middle", "font": "Liberation Serif", "fontSize": 12.5, "color": "#333"},
          "encoding": {"x": {"field": "wavenumber", "type": "quantitative"}, "y": {"datum": 394}, "text": {"field": "band"}}
        },
        {
          "data": {"name": "ir_bands_cc"},
          "mark": {"type": "text", "angle": 270, "align": "left", "baseline": "middle", "font": "Liberation Serif", "fontSize": 12.5, "color": "#333"},
          "encoding": {"x": {"field": "wavenumber", "type": "quantitative"}, "y": {"datum": 393}, "text": {"field": "band"}}
        },
        {
          "data": {"name": "ir_bands_green"},
          "mark": {"type": "text", "angle": 270, "align": "left", "baseline": "middle", "font": "Liberation Serif", "fontSize": 12.5, "color": "#333"},
          "encoding": {"x": {"field": "wavenumber", "type": "quantitative"}, "y": {"datum": 385}, "text": {"field": "band"}}
        },
        {
          "data": {"name": "ir"},
          "mark": {"type": "line", "strokeWidth": 1.5},
          "encoding": {
            "x": {"field": "wavenumber", "type": "quantitative",
              "scale": {"domain": [400, 4000], "reverse": true, "nice": false, "zero": false},
              "axis": {"title": "Wavenumber (cm⁻¹)", "values": [4000, 3500, 3000, 2500, 2000, 1500, 1000, 400], "format": "d", "domainColor": "#222", "domainWidth": 1.6, "ticks": false, "tickSize": 0, "labelPadding": 4, "labelFont": "Liberation Serif", "labelFontSize": 13.5, "labelColor": "#333", "labelFlush": false, "labelOverlap": false, "titleFont": "Liberation Serif", "titleFontSize": 14, "titleFontWeight": "normal", "titleColor": "#333", "titleX": 528, "titleY": 28, "titleAlign": "right", "titleBaseline": "middle"}
            },
            "y": {"field": "transmittance", "type": "quantitative",
              "scale": {"domain": [0, 479], "nice": false, "zero": false},
              "axis": {"title": "% Trasmitance", "domain": false, "ticks": false, "labels": false, "titleFont": "Liberation Serif", "titleFontSize": 14.5, "titleFontWeight": "normal", "titleColor": "#333", "titleAngle": 270, "titleX": -13, "titleY": 118, "titleAlign": "center", "titleBaseline": "middle"}
            },
            "color": {"field": "sample", "type": "nominal",
              "scale": {"domain": ["Pure PP", "AS-BNC-0", "AS-BNC-0.5", "AS-BNC-2.5"], "range": ["#8e7f2e", "#4e5a3c", "#2b90c2", "#2c3c57"]},
              "legend": null}
          }
        },
        {
          "data": {"name": "ir_values_red"},
          "mark": {"type": "text", "align": "center", "baseline": "middle", "font": "Liberation Serif", "fontSize": 14, "color": "#b03a48"},
          "encoding": {"x": {"field": "wavenumber", "type": "quantitative"}, "y": {"field": "transmittance", "type": "quantitative"}, "text": {"field": "text"}}
        },
        {
          "data": {"name": "ir_values_green"},
          "mark": {"type": "text", "align": "center", "baseline": "middle", "font": "Liberation Serif", "fontSize": 14, "color": "#6a7f4a"},
          "encoding": {"x": {"field": "wavenumber", "type": "quantitative"}, "y": {"field": "transmittance", "type": "quantitative"}, "text": {"field": "text"}}
        },
        {
          "data": {"values": [{}]},
          "mark": {"type": "rule", "color": "#222", "strokeWidth": 1.6},
          "encoding": {"x": {"datum": 4000}, "y": {"datum": 0}, "y2": {"datum": 402}}
        },
        {
          "data": {"name": "ir_arrows"},
          "mark": {"type": "point", "filled": true, "size": 45, "opacity": 1, "color": "#222"},
          "encoding": {
            "x": {"field": "wavenumber", "type": "quantitative"},
            "y": {"field": "transmittance", "type": "quantitative"},
            "shape": {"field": "dir", "type": "nominal", "scale": {"domain": ["up", "down", "left", "right"], "range": ["triangle-up", "triangle-down", "triangle-left", "triangle-right"]}, "legend": null}
          }
        },
        {
          "data": {"name": "ir_legend"},
          "mark": {"type": "rule", "strokeWidth": 1.5},
          "encoding": {
            "x": {"field": "wavenumber", "type": "quantitative"},
            "x2": {"field": "wavenumber_end"},
            "y": {"field": "transmittance", "type": "quantitative"},
            "color": {"field": "sample", "type": "nominal", "legend": null}
          }
        },
        {
          "data": {"name": "ir_legend"},
          "mark": {"type": "text", "align": "left", "baseline": "middle", "font": "Liberation Serif", "fontSize": 14.5},
          "encoding": {
            "x": {"field": "text_wn", "type": "quantitative"},
            "y": {"field": "transmittance", "type": "quantitative"},
            "text": {"field": "sample"},
            "color": {"field": "sample", "type": "nominal", "legend": null}
          }
        }
      ]
    }
  ]
}
